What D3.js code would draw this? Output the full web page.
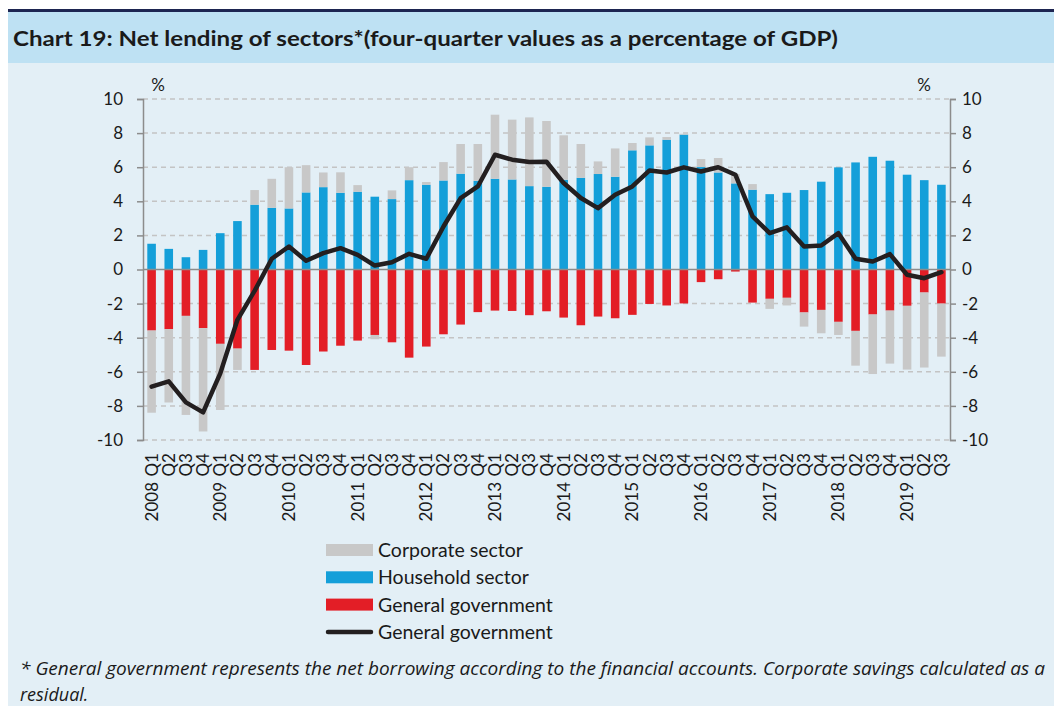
<!DOCTYPE html>
<html>
<head>
<meta charset="utf-8">
<script src="https://cdn.jsdelivr.net/npm/d3@7"></script>
<style>
  body { margin: 0; background: #fff; }
  svg { display: block; font-family: Lato, "Open Sans", sans-serif; }
</style>
</head>
<body>
<div id="chart"></div>
<script>
// quarters 2008 Q1 .. 2019 Q3
const years = ["2008", "2009", "2010", "2011", "2012", "2013", "2014", "2015", "2016", "2017", "2018", "2019"];
const quarterNames = ["Q1", "Q2", "Q3", "Q4"];

const household = [1.51, 1.21, 0.72, 1.15, 2.13, 2.84, 3.80, 3.62, 3.58, 4.52, 4.83, 4.50,
  4.56, 4.27, 4.13, 5.24, 4.97, 5.22, 5.62, 5.20, 5.32, 5.28, 4.89, 4.85,
  5.26, 5.38, 5.60, 5.44, 6.99, 7.28, 7.61, 7.91, 6.01, 5.69, 5.05, 4.68,
  4.42, 4.50, 4.66, 5.15, 5.99, 6.28, 6.61, 6.38, 5.56, 5.24, 4.97];

const government = [-3.58, -3.50, -2.72, -3.44, -4.36, -4.64, -5.89, -4.72, -4.76, -5.60, -4.81, -4.47,
  -4.17, -3.84, -4.27, -5.17, -4.52, -3.80, -3.23, -2.50, -2.41, -2.43, -2.68, -2.45,
  -2.82, -3.27, -2.76, -2.86, -2.66, -2.02, -2.11, -1.99, -0.74, -0.57, -0.12, -1.94,
  -1.72, -1.66, -2.52, -2.37, -3.07, -3.60, -2.64, -2.41, -2.13, -1.35, -2.00];

const corporate = [-4.82, -4.30, -5.81, -6.06, -3.88, -1.25, 0.86, 1.70, 2.42, 1.60, 0.86, 1.20,
  0.39, -0.25, 0.51, 0.76, 0.16, 1.08, 1.74, 2.16, 3.76, 3.51, 4.03, 3.86,
  2.61, 1.98, 0.74, 1.66, 0.43, 0.47, 0.16, 0.05, 0.47, 0.85, 0.55, 0.33,
  -0.59, -0.45, -0.83, -1.37, -0.77, -2.04, -3.49, -3.11, -3.74, -4.40, -3.11];

const totalLine = [-6.87, -6.56, -7.79, -8.38, -6.09, -2.95, -1.25, 0.63, 1.35, 0.51, 0.96, 1.25,
  0.86, 0.23, 0.43, 0.92, 0.63, 2.52, 4.19, 4.87, 6.73, 6.44, 6.30, 6.32,
  5.07, 4.19, 3.60, 4.38, 4.87, 5.81, 5.69, 5.99, 5.75, 6.00, 5.56, 3.11,
  2.13, 2.47, 1.35, 1.41, 2.13, 0.63, 0.47, 0.90, -0.31, -0.51, -0.16];

const yTicks = [-10, -8, -6, -4, -2, 0, 2, 4, 6, 8, 10];

const quarters = household.map((d, i) => ({
  i: i,
  year: years[Math.floor(i / 4)],
  q: quarterNames[i % 4],
  household: household[i],
  government: government[i],
  corporate: corporate[i],
  total: totalLine[i]
}));

const svgWidth = 1054;
const svgHeight = 706;

const margin = { top: 99, left: 143, right: 104, bottom: 266 };
const width = 950 - margin.left;
const height = 440 - margin.top;

const colors = {
  corporate: "#c8c8c8",
  household: "#149fd9",
  government: "#e31e26",
  line: "#231f20"
};

const svg = d3.select("#chart")
  .append("svg")
  .attr("width", svgWidth)
  .attr("height", svgHeight);

// panel background + title band
svg.append("rect").attr("x", 8).attr("y", 12).attr("width", svgWidth - 8).attr("height", svgHeight - 12).attr("fill", "#e3eff6");
svg.append("rect").attr("x", 8).attr("y", 12).attr("width", svgWidth - 8).attr("height", 51).attr("fill", "#bee1f3");
svg.append("rect").attr("x", 8).attr("y", 9).attr("width", svgWidth - 8).attr("height", 3).attr("fill", "#1d2551");

svg.append("text")
  .attr("x", 13)
  .attr("y", 46)
  .attr("font-size", 21)
  .attr("font-weight", "bold")
  .attr("fill", "#1a1a1a")
  .attr("textLength", 825)
  .attr("lengthAdjust", "spacingAndGlyphs")
  .text("Chart 19: Net lending of sectors*(four-quarter values as a percentage of GDP)");

const chartGroup = svg.append("g")
  .attr("transform", `translate(${margin.left}, ${margin.top})`);

const xScale = d3.scaleBand()
  .domain(quarters.map(d => d.i))
  .range([0, width])
  .paddingInner(0.5)
  .paddingOuter(0.25);

const yScale = d3.scaleLinear()
  .domain([-10, 10])
  .range([height, 0]);

// gridlines
chartGroup.append("g")
  .selectAll("line")
  .data(yTicks.filter(t => t !== 0))
  .enter()
  .append("line")
  .attr("x1", 0)
  .attr("x2", width)
  .attr("y1", d => yScale(d))
  .attr("y2", d => yScale(d))
  .attr("stroke", "#c4c4c4")
  .attr("stroke-width", 1.5)
  .attr("stroke-dasharray", "5,4");

// bars: household & corp positive stack up, gov & corp negative stack down
const segs = [];
quarters.forEach(d => {
  segs.push({ i: d.i, y0: 0, y1: d.household, c: colors.household });
  segs.push({ i: d.i, y0: 0, y1: d.government, c: colors.government });
  if (d.corporate >= 0) {
    segs.push({ i: d.i, y0: d.household, y1: d.household + d.corporate, c: colors.corporate });
  } else {
    segs.push({ i: d.i, y0: d.government, y1: d.government + d.corporate, c: colors.corporate });
  }
});

chartGroup.append("g")
  .selectAll("rect")
  .data(segs)
  .enter()
  .append("rect")
  .attr("x", d => xScale(d.i))
  .attr("width", xScale.bandwidth())
  .attr("y", d => yScale(Math.max(d.y0, d.y1)))
  .attr("height", d => Math.abs(yScale(d.y0) - yScale(d.y1)))
  .attr("fill", d => d.c);

// zero line
chartGroup.append("line")
  .attr("x1", 0)
  .attr("x2", width)
  .attr("y1", yScale(0))
  .attr("y2", yScale(0))
  .attr("stroke", "#8c8c8c")
  .attr("stroke-width", 1.5);

// axes (plain hyphen for negatives, like the original)
const leftAxis = d3.axisLeft(yScale).tickValues(yTicks).tickFormat(d => String(d)).tickSize(6).tickPadding(14);
const rightAxis = d3.axisRight(yScale).tickValues(yTicks).tickFormat(d => String(d)).tickSize(6).tickPadding(6);

function styleAxis(g) {
  g.select(".domain").attr("stroke", "#8c8c8c").attr("stroke-width", 1.5);
  g.selectAll(".tick line").attr("stroke", "#8c8c8c").attr("stroke-width", 1.5);
  g.selectAll(".tick text").attr("font-size", 17).attr("fill", "#1a1a1a").attr("font-family", "Lato, sans-serif");
}

chartGroup.append("g").call(leftAxis).call(styleAxis);
chartGroup.append("g").attr("transform", `translate(${width}, 0)`).call(rightAxis).call(styleAxis);

// line
const line = d3.line()
  .x(d => xScale(d.i) + xScale.bandwidth() / 2)
  .y(d => yScale(d.total));

chartGroup.append("path")
  .datum(quarters)
  .attr("d", line)
  .attr("fill", "none")
  .attr("stroke", colors.line)
  .attr("stroke-width", 4.5)
  .attr("stroke-linejoin", "round")
  .attr("stroke-linecap", "round");

// % labels
chartGroup.append("text").attr("x", 15).attr("y", -8).attr("font-size", 17).attr("text-anchor", "middle").attr("fill", "#1a1a1a").text("%");
chartGroup.append("text").attr("x", width - 26).attr("y", -8).attr("font-size", 17).attr("text-anchor", "middle").attr("fill", "#1a1a1a").text("%");

// x labels (rotated)
const xLabels = chartGroup.append("g");
quarters.forEach(d => {
  const cx = xScale(d.i) + xScale.bandwidth() / 2;
  xLabels.append("text")
    .attr("transform", `translate(${cx + 6}, ${height + 13}) rotate(-90)`)
    .attr("text-anchor", "end")
    .attr("font-size", 17)
    .attr("fill", "#1a1a1a")
    .text(d.q);
  if (d.q === "Q1") {
    xLabels.append("text")
      .attr("transform", `translate(${cx + 6}, ${height + 42}) rotate(-90)`)
      .attr("text-anchor", "end")
      .attr("font-size", 17)
      .attr("fill", "#1a1a1a")
      .text(d.year);
  }
});

// legend
const legendItems = [
  { label: "Corporate sector", color: colors.corporate, type: "bar" },
  { label: "Household sector", color: colors.household, type: "bar" },
  { label: "General government", color: colors.government, type: "bar" },
  { label: "General government", color: colors.line, type: "line" }
];

const legend = svg.append("g").attr("transform", "translate(326, 550)");
legendItems.forEach((item, k) => {
  const row = legend.append("g").attr("transform", `translate(0, ${k * 27.3})`);
  if (item.type === "bar") {
    row.append("rect").attr("x", 0).attr("y", -6).attr("width", 47).attr("height", 12).attr("fill", item.color);
  } else {
    row.append("line").attr("x1", 2).attr("x2", 45).attr("y1", 0).attr("y2", 0)
      .attr("stroke", item.color).attr("stroke-width", 4.5).attr("stroke-linecap", "round");
  }
  row.append("text")
    .attr("x", 52)
    .attr("y", 7)
    .attr("font-size", 19.5)
    .attr("fill", "#1a1a1a")
    .text(item.label);
});

// footnote
svg.append("text")
  .attr("x", 20)
  .attr("y", 675)
  .attr("font-size", 18)
  .attr("font-style", "italic")
  .attr("font-family", "'Open Sans', sans-serif")
  .attr("fill", "#1a1a1a")
  .attr("textLength", 1025)
  .attr("lengthAdjust", "spacingAndGlyphs")
  .text("* General government represents the net borrowing according to the financial accounts. Corporate savings calculated as a");

svg.append("text")
  .attr("x", 20)
  .attr("y", 701)
  .attr("font-size", 18)
  .attr("font-style", "italic")
  .attr("font-family", "'Open Sans', sans-serif")
  .attr("fill", "#1a1a1a")
  .text("residual.");
</script>
</body>
</html>
